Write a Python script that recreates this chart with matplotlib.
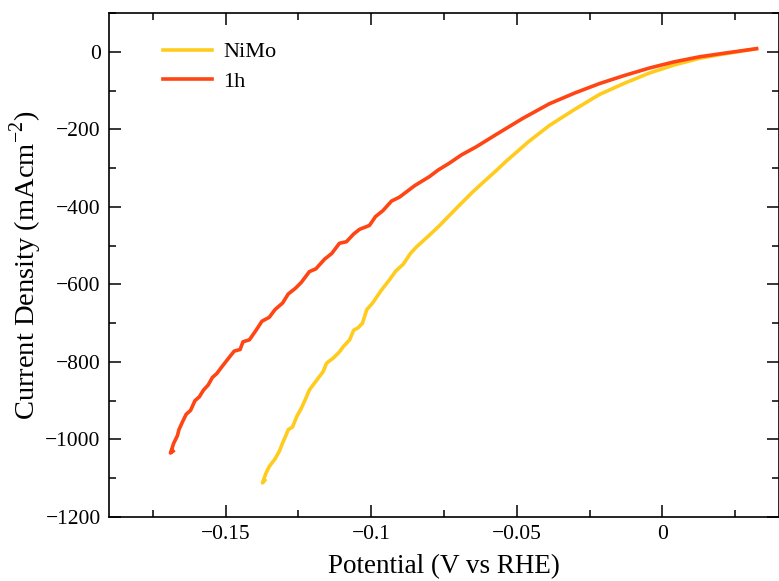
import matplotlib
matplotlib.use("Agg")
import matplotlib.pyplot as plt
from matplotlib.ticker import MultipleLocator

plt.rcParams['font.family'] = ['Liberation Serif', 'DejaVu Serif']
plt.rcParams['mathtext.fontset'] = 'custom'
plt.rcParams['mathtext.rm'] = 'Liberation Serif'

# ---- data ----
v_1h = [0.0323, 0.0200, 0.0127, 0.0040, -0.0045, -0.0130, -0.0216, -0.0300,
        -0.0388, -0.0480, -0.0570, -0.0639, -0.0690, -0.0731, -0.0770,
        -0.0800, -0.0850, -0.0903, -0.0930, -0.0960, -0.0985, -0.1006, -0.1040,
        -0.1060, -0.1085, -0.1109, -0.1135, -0.1160, -0.1190, -0.1212, -0.1240,
        -0.1260, -0.1285, -0.1304, -0.1330, -0.1350, -0.1375, -0.1394, -0.1418,
        -0.1440, -0.1450, -0.1470, -0.1486, -0.1510, -0.1530, -0.1545, -0.1560,
        -0.1575, -0.1590, -0.1605, -0.1620, -0.1635, -0.1648, -0.1660, -0.1665,
        -0.1678, -0.1689, -0.1680]
j_1h = [8, -5, -13, -26, -42, -61, -82, -106,
        -134, -172, -213, -245, -266, -287, -305,
        -322, -345, -375, -385, -410, -425, -448, -458,
        -470, -490, -494, -520, -535, -560, -567, -595,
        -610, -625, -648, -665, -685, -695, -717, -743,
        -748, -768, -772, -787, -810, -830, -840, -860,
        -872, -890, -900, -925, -935, -955, -975, -990,
        -1010, -1035, -1030]

v_nimo = [0.0323, 0.0200, 0.0127, 0.0040, -0.0045, -0.0130, -0.0216, -0.0300,
          -0.0388, -0.0460, -0.0536, -0.0570, -0.0610, -0.0652, -0.0700, -0.0730,
          -0.0765, -0.0800, -0.0844, -0.0865, -0.0890, -0.0915, -0.0937, -0.0965,
          -0.0995, -0.1015, -0.1030, -0.1045, -0.1060, -0.1074, -0.1095, -0.1110,
          -0.1130, -0.1153, -0.1165, -0.1180, -0.1200, -0.1212, -0.1225, -0.1240,
          -0.1255, -0.1270, -0.1285, -0.1290, -0.1304, -0.1315, -0.1330, -0.1340,
          -0.1350, -0.1360, -0.1365, -0.1373, -0.1365]
j_nimo = [8, -7, -17, -34, -55, -81, -110, -148,
          -190, -232, -282, -306, -333, -362, -398, -421,
          -448, -473, -503, -520, -548, -565, -588, -615,
          -648, -665, -700, -712, -718, -743, -760, -775,
          -790, -803, -825, -840, -860, -872, -895, -920,
          -940, -968, -975, -985, -1009, -1030, -1050, -1060,
          -1070, -1085, -1095, -1112, -1105]

labels = ["NiMo", "1h"]
colors = ["#FFCC1E", "#FF4513"]

fig = plt.figure(figsize=(7.79, 5.81), dpi=100)
ax = fig.add_axes([109/779, (581-517)/581, (779-109)/779, (517-13)/581])

ax.plot(v_nimo, j_nimo, color=colors[0], lw=2.6, label=labels[0], solid_joinstyle='round')
ax.plot(v_1h, j_1h, color=colors[1], lw=2.6, label=labels[1], solid_joinstyle='round')

ax.set_xlim(-0.19, 0.04)
ax.set_ylim(-1200, 100)
ax.xaxis.set_major_locator(MultipleLocator(0.05))
ax.xaxis.set_minor_locator(MultipleLocator(0.025))
ax.yaxis.set_major_locator(MultipleLocator(200))
ax.yaxis.set_minor_locator(MultipleLocator(100))
ax.set_xticks([-0.15, -0.1, -0.05, 0])
ax.set_xticklabels(["\u22120.15", "\u22120.1", "\u22120.05", "0"])
yt = [-1200, -1000, -800, -600, -400, -200, 0]
ax.set_yticks(yt)
ax.set_yticklabels([("\u2212" + str(-t)) if t < 0 else str(t) for t in yt])

ax.tick_params(which='both', direction='in', top=True, right=True, width=1.1, labelsize=15.5, pad=6)
ax.tick_params(which='major', length=8.5)
ax.tick_params(which='minor', length=5)
for s in ax.spines.values():
    s.set_linewidth(1.2)

ax.set_xlabel("Potential (V vs RHE)", fontsize=19.5, labelpad=7)
ax.set_ylabel("Current Density (mAcm$^{\\mathregular{-2}}$)", fontsize=20.5, labelpad=1)

ax.legend(loc='upper left', bbox_to_anchor=(0.0806, 0.943), frameon=False,
          fontsize=16, borderaxespad=0, borderpad=0, handlelength=2.2,
          handletextpad=0.5, labelspacing=0.4)

fig.savefig("out.png", dpi=100)
